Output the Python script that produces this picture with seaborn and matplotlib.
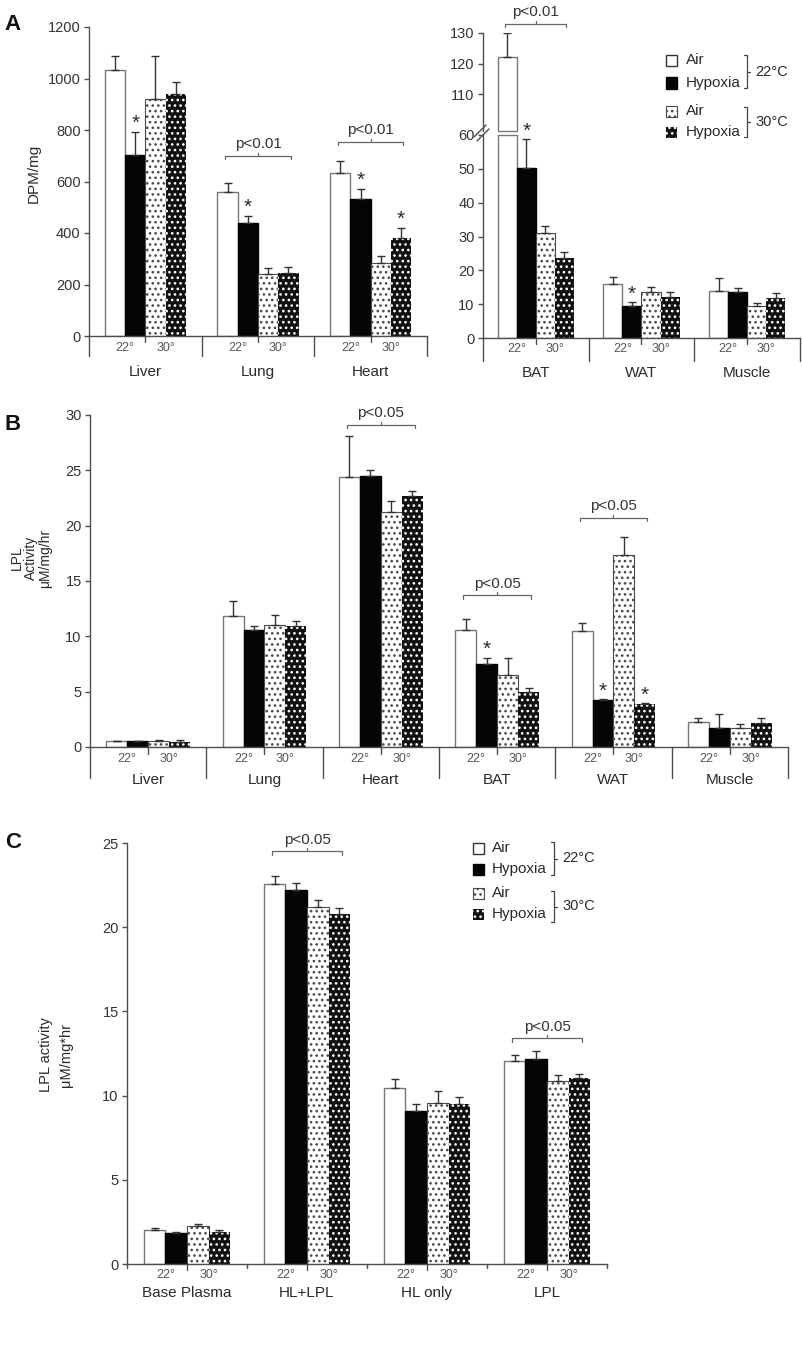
import numpy as np
import pandas as pd
import matplotlib
matplotlib.use("Agg")
import matplotlib.pyplot as plt
import seaborn as sns
from matplotlib.patches import Rectangle

# ---------------- data ----------------
conditions = ["Air 22°C", "Hypoxia 22°C", "Air 30°C", "Hypoxia 30°C"]
legend_labels = ["Air", "Hypoxia", "Air", "Hypoxia"]
temp_labels = ["22°", "30°"]

# Panel A, left (DPM/mg)
a1_tissues = ["Liver", "Lung", "Heart"]
a1_air22 = [1033, 558, 634]
a1_hyp22 = [703, 440, 532]
a1_air30 = [920, 241, 283]
a1_hyp30 = [940, 243, 382]
a1_err_air22 = [55, 38, 46]
a1_err_hyp22 = [90, 26, 40]
a1_err_air30 = [168, 22, 29]
a1_err_hyp30 = [46, 26, 38]
a1_stars = [(0, 1), (1, 1), (2, 1), (2, 3)]
a1_brackets = [(1, 700, "p<0.01"), (2, 754, "p<0.01")]

# Panel A, right (DPM/mg, broken axis)
a2_tissues = ["BAT", "WAT", "Muscle"]
a2_air22 = [122, 15.9, 14.0]
a2_hyp22 = [50.3, 9.5, 13.7]
a2_air30 = [30.9, 13.7, 9.5]
a2_hyp30 = [23.7, 12.2, 11.9]
a2_err_air22 = [8.0, 2.0, 3.8]
a2_err_hyp22 = [8.4, 1.0, 1.2]
a2_err_air30 = [2.3, 1.5, 0.8]
a2_err_hyp30 = [1.8, 1.3, 1.5]
a2_stars = [(0, 1), (1, 1)]
a2_brackets = [(0, 133, "p<0.01")]

# Panel B (LPL activity, tissues)
b_tissues = ["Liver", "Lung", "Heart", "BAT", "WAT", "Muscle"]
b_air22 = [0.55, 11.8, 24.4, 10.6, 10.5, 2.3]
b_hyp22 = [0.50, 10.6, 24.5, 7.47, 4.25, 1.75]
b_air30 = [0.50, 11.0, 21.2, 6.5, 17.35, 1.75]
b_hyp30 = [0.45, 10.95, 22.7, 5.0, 3.9, 2.15]
b_err_air22 = [0.03, 1.4, 3.7, 1.0, 0.7, 0.3]
b_err_hyp22 = [0.08, 0.35, 0.5, 0.6, 0.06, 1.2]
b_err_air30 = [0.10, 0.9, 1.0, 1.57, 1.6, 0.3]
b_err_hyp30 = [0.20, 0.4, 0.45, 0.3, 0.05, 0.5]
b_stars = [(3, 1), (4, 1), (4, 3)]
b_brackets = [(2, 29.1, "p<0.05"), (3, 13.7, "p<0.05"), (4, 20.7, "p<0.05")]

# Panel C (LPL activity, plasma)
c_samples = ["Base Plasma", "HL+LPL", "HL only", "LPL"]
c_air22 = [2.0, 22.55, 10.47, 12.07]
c_hyp22 = [1.84, 22.23, 9.07, 12.19]
c_air30 = [2.28, 21.2, 9.56, 10.85]
c_hyp30 = [1.92, 20.78, 9.52, 11.05]
c_err_air22 = [0.14, 0.47, 0.5, 0.32]
c_err_hyp22 = [0.08, 0.4, 0.41, 0.48]
c_err_air30 = [0.10, 0.43, 0.69, 0.37]
c_err_hyp30 = [0.08, 0.38, 0.38, 0.25]
c_brackets = [(1, 24.5, "p<0.05"), (3, 13.4, "p<0.05")]

# ---------------- style ----------------
sns.set_style("white")
plt.rcParams["font.family"] = ["Liberation Sans", "DejaVu Sans"]
plt.rcParams["hatch.linewidth"] = 1.1
AX = "#4d4d4d"
TXT = "#2a2a2a"

W, H = 803, 1354
fig = plt.figure(figsize=(W / 100, H / 100), dpi=100)
fig.patch.set_facecolor("white")


def add_ax(x0, y0, x1, y1):
    ax = fig.add_axes([x0 / W, 1 - y1 / H, (x1 - x0) / W, (y1 - y0) / H])
    ax.set_facecolor("none")
    return ax


def style_patch(p, j):
    if j == 0:
        p.set_facecolor("white"); p.set_edgecolor("#767676"); p.set_linewidth(1.0)
    elif j == 1:
        p.set_facecolor("#050505"); p.set_edgecolor("#050505"); p.set_linewidth(1.0)
    elif j == 2:
        p.set_facecolor("white"); p.set_edgecolor("#4a4a4a"); p.set_linewidth(0.8)
        p.set_hatch("...")
    else:
        p.set_facecolor("#111111"); p.set_edgecolor("white"); p.set_linewidth(0)
        p.set_hatch("...")


def draw_bars(ax, cats, series, errs, err_on=True):
    rows = []
    for cond, vals in zip(conditions, series):
        for c, v in zip(cats, vals):
            rows.append((c, cond, v))
    df = pd.DataFrame(rows, columns=["cat", "cond", "value"])
    sns.barplot(data=df, x="cat", y="value", hue="cond", order=cats,
                hue_order=conditions, width=0.72, errorbar=None,
                palette=["white", "black", "white", "black"], saturation=1,
                legend=False, ax=ax)
    tops = {}
    for p in ax.patches:
        x = p.get_x() + p.get_width() / 2
        i = int(round(x))
        j = int(round((x - i + 0.27) / 0.18))
        style_patch(p, j)
        e = errs[j][i]
        y = p.get_height()
        tops[(i, j)] = (x, y + e, p)
        if err_on:
            ax.errorbar([x], [y], yerr=[[0], [e]], fmt="none", ecolor="#333333",
                        elinewidth=1.0, capsize=2.6, capthick=1.0, zorder=4)
    ax.set_xlabel("")
    ax.set_ylabel("")
    return tops


def style_axes(ax, ylim, yticks):
    ax.set_ylim(*ylim)
    ax.set_yticks(yticks)
    for s in ["top", "right"]:
        ax.spines[s].set_visible(False)
    for s in ["left", "bottom"]:
        ax.spines[s].set_color(AX)
        ax.spines[s].set_linewidth(1.0)
    ax.tick_params(axis="y", left=True, length=3.5, width=1.0, color=AX,
                   labelsize=10.5, labelcolor="#333333", pad=2.5)
    ax.grid(False)


def nested_axis(ax, cats, h_px, sep_px, ctr_px, sub_px, cat_px, cat_fs=11):
    n = len(cats)
    ax.set_xlim(-0.5, n - 0.5)
    ax.set_xticks([])
    tr = ax.get_xaxis_transform()
    f = lambda px: -px / h_px
    for b in np.arange(n + 1) - 0.5:
        ax.plot([b, b], [0, f(sep_px)], transform=tr, clip_on=False, color=AX, lw=1.0)
    for i, c in enumerate(cats):
        ax.plot([i, i], [0, f(ctr_px)], transform=tr, clip_on=False, color=AX, lw=1.0)
        ax.text(i - 0.18, f(sub_px), temp_labels[0], transform=tr, ha="center",
                va="center", fontsize=9, color="#555555")
        ax.text(i + 0.18, f(sub_px), temp_labels[1], transform=tr, ha="center",
                va="center", fontsize=9, color="#555555")
        ax.text(i, f(cat_px), c, transform=tr, ha="center", va="center",
                fontsize=cat_fs, color=TXT)


def add_stars(ax, tops, stars):
    for key in stars:
        x, y, _ = tops[key]
        ax.annotate("*", (x, y), xytext=(0, 2.0), textcoords="offset points",
                    ha="center", va="baseline", fontsize=15, color=TXT,
                    annotation_clip=False)


def add_brackets(ax, brackets, h_px):
    y0, y1 = ax.get_ylim()
    u = (y1 - y0) / h_px
    for i, y, lab in brackets:
        xa, xb = i - 0.29, i + 0.29
        ax.plot([xa, xa, xb, xb], [y - 3.5 * u, y, y, y - 3.5 * u], color="#666666",
                lw=0.9, clip_on=False)
        ax.plot([i, i], [y, y + 3 * u], color="#666666", lw=0.9, clip_on=False)
        ax.text(i, y + 4.5 * u, lab, ha="center", va="bottom", fontsize=11,
                color="#333333", clip_on=False)


def break_edges(ax, tops, level):
    # outline where a tall bar is cut by the axis break
    for (i, j), (x, ytop, p) in tops.items():
        if p.get_height() > level:
            ax.plot([p.get_x(), p.get_x() + p.get_width()], [level, level],
                    color="#767676", lw=1.0, clip_on=False, zorder=3)


# ---------------- Panel A left ----------------
axA1 = add_ax(89, 27, 427, 336)
tA1 = draw_bars(axA1, a1_tissues, [a1_air22, a1_hyp22, a1_air30, a1_hyp30],
                [a1_err_air22, a1_err_hyp22, a1_err_air30, a1_err_hyp30])
style_axes(axA1, (0, 1200), np.arange(0, 1201, 200))
nested_axis(axA1, a1_tissues, 309, 20, 6, 12, 36)
add_stars(axA1, tA1, a1_stars)
add_brackets(axA1, a1_brackets, 309)

# ---------------- Panel A right (broken axis) ----------------
axA2u = add_ax(483, 33, 800, 131)
axA2 = add_ax(483, 135, 800, 338)
series_a2 = [a2_air22, a2_hyp22, a2_air30, a2_hyp30]
errs_a2 = [a2_err_air22, a2_err_hyp22, a2_err_air30, a2_err_hyp30]
tA2u = draw_bars(axA2u, a2_tissues, series_a2, errs_a2)
tA2 = draw_bars(axA2, a2_tissues, series_a2, errs_a2)
style_axes(axA2u, (97.9, 130), [110, 120, 130])
axA2u.spines["bottom"].set_visible(False)
axA2u.set_xlim(-0.5, 2.5)
axA2u.set_xticks([])
style_axes(axA2, (0, 60), np.arange(0, 61, 10))
nested_axis(axA2, a2_tissues, 203, 23, 6, 11, 35)
break_edges(axA2u, tA2u, 97.9)
break_edges(axA2, tA2, 60)
add_stars(axA2, tA2, a2_stars)
add_brackets(axA2u, a2_brackets, 98)

# ---------------- Panel B ----------------
axB = add_ax(90, 415, 788, 747)
tB = draw_bars(axB, b_tissues, [b_air22, b_hyp22, b_air30, b_hyp30],
               [b_err_air22, b_err_hyp22, b_err_air30, b_err_hyp30])
style_axes(axB, (0, 30), np.arange(0, 31, 5))
nested_axis(axB, b_tissues, 332, 31, 7, 12, 33)
add_stars(axB, tB, b_stars)
add_brackets(axB, b_brackets, 332)

# ---------------- Panel C ----------------
axC = add_ax(127, 843, 607, 1264)
tC = draw_bars(axC, c_samples, [c_air22, c_hyp22, c_air30, c_hyp30],
               [c_err_air22, c_err_hyp22, c_err_air30, c_err_hyp30])
style_axes(axC, (0, 25), np.arange(0, 26, 5))
nested_axis(axC, c_samples, 421, 4, 6, 11, 29)
add_brackets(axC, c_brackets, 421)

# ---------------- overlay: labels, legends, break marks ----------------
ov = fig.add_axes([0, 0, 1, 1])
ov.set_xlim(0, W)
ov.set_ylim(H, 0)
ov.axis("off")

for lab, (x, y) in zip(["A", "B", "C"], [(13, 24), (13, 424), (13, 842)]):
    ov.text(x, y, lab, ha="center", va="center", fontsize=16, fontweight="bold", color="#111111")

ov.text(34, 173, "DPM/mg", rotation=90, ha="center", va="center", fontsize=11, color=TXT)
ov.text(31, 558, "LPL\nActivity\nμM/mg/hr", rotation=90, ha="center", va="center",
        multialignment="center", linespacing=1.0, fontsize=10, color=TXT)
ov.text(56, 1055, "LPL activity\nμM/mg*hr", rotation=90, ha="center", va="center",
        multialignment="center", linespacing=1.55, fontsize=10.5, color=TXT)

# axis break marks
for dx, dy in [(0, 0), (3, 4)]:
    ov.plot([474 + dx, 486 + dx], [137 + dy, 125 + dy], color=AX, lw=1.0)


def draw_legend(x_sq, rows_y, x_txt, brk_x, spans, x_temp):
    for j, y in enumerate(rows_y):
        r = Rectangle((x_sq, y - 5.5), 11.5, 11.5)
        style_patch(r, j)
        if j == 0:
            r.set_edgecolor("#333333")
        ov.add_patch(r)
        ov.text(x_txt, y, legend_labels[j], ha="left", va="center", fontsize=11, color=TXT)
    for (y0, y1), t in zip(spans, ["22°C", "30°C"]):
        ym = (y0 + y1) / 2
        ov.plot([brk_x - 3, brk_x, brk_x, brk_x - 3], [y0, y0, y1, y1], color="#444444", lw=0.9)
        ov.plot([brk_x, brk_x + 3], [ym, ym], color="#444444", lw=0.9)
        ov.text(x_temp, ym, t, ha="left", va="center", fontsize=10.5, color=TXT)


draw_legend(666, [60, 82.7, 111, 132.3], 686, 747, [(55, 88), (107, 137)], 755)
draw_legend(473, [848.3, 869.3, 893.3, 914], 492, 554, [(842, 875), (891, 922)], 562)

fig.savefig("out.png", dpi=100, facecolor="white")
